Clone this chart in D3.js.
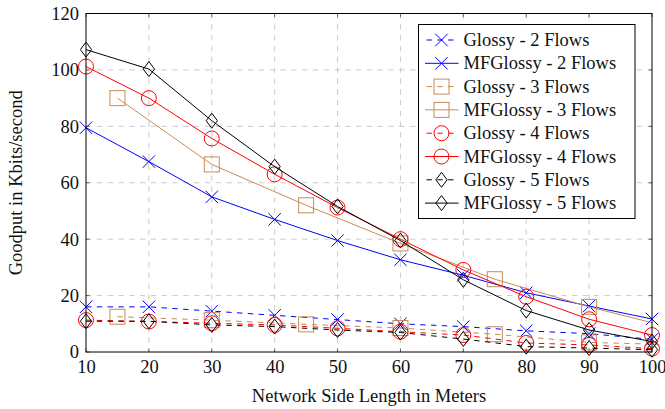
<!DOCTYPE html>
<html>
<head>
<meta charset="utf-8">
<script src="https://cdnjs.cloudflare.com/ajax/libs/d3/7.8.5/d3.min.js"></script>
<style>
    body { margin: 0; background: #fff; }
    svg, svg text { font-family: "Liberation Serif", "Times New Roman", serif !important; fill: #111; }
</style>
</head>
<body>
<div id="chart"></div>
<script>
// network side length (meters)
var sideLengths = [10, 20, 30, 40, 50, 60, 70, 80, 90, 100];
// the 3 flows runs were done with a different step
var sideLengths3 = [15, 30, 45, 60, 75, 90, 100];

// goodput in Kbits/second
var glossy2 = [16, 16, 14.5, 13, 11.5, 10, 9, 7.5, 6.5, 4.5];
var mfGlossy2 = [79.5, 67.5, 55, 47, 39.5, 32.7, 27.2, 21, 16.3, 11.7];
var glossy3 = [12.5, 11.3, 9.8, 8.5, 6.3, 3.4, 2.8];
var mfGlossy3 = [90, 66.5, 52, 38.5, 25.8, 16, 10.4];
var glossy4 = [11.3, 10.8, 10.2, 9.6, 8.4, 7.2, 6, 3.2, 2.5, 1.2];
var mfGlossy4 = [101.2, 90, 75.7, 63, 51.2, 40, 29.1, 19.6, 11.6, 6];
var glossy5 = [10.9, 10.9, 9.6, 9, 7.8, 6.9, 4.6, 1.9, 1.4, 0.8];
var mfGlossy5 = [107.2, 100.3, 82, 65.7, 51.6, 39.5, 25.6, 14.7, 7.8, 3.7];

var seriesNames = ["Glossy - 2 Flows", "MFGlossy - 2 Flows", "Glossy - 3 Flows", "MFGlossy - 3 Flows",
    "Glossy - 4 Flows", "MFGlossy - 4 Flows", "Glossy - 5 Flows", "MFGlossy - 5 Flows"];

var xTicks = [10, 20, 30, 40, 50, 60, 70, 80, 90, 100];
var yTicks = [0, 20, 40, 60, 80, 100, 120];

var width = 665, height = 409;
var margin = {top: 13.5, right: 13, bottom: 57, left: 86};
var plotW = width - margin.left - margin.right;
var plotH = height - margin.top - margin.bottom;
var fontFamily = "'Liberation Serif', 'Times New Roman', serif";

// styling per flow count
var colors = {2: "#0000ff", 3: "#c48c55", 4: "#ff0000", 5: "#000000"};
var markers = {2: "cross", 3: "square", 4: "circle", 5: "diamond"};

function makeSeries(name, xs, ys, flows, dashed) {
    return {
        name: name, flows: flows, dashed: dashed,
        values: xs.map(function (x, i) { return {x: x, y: ys[i]}; })
    };
}

var series = [
    makeSeries(seriesNames[0], sideLengths, glossy2, 2, true),
    makeSeries(seriesNames[1], sideLengths, mfGlossy2, 2, false),
    makeSeries(seriesNames[2], sideLengths3, glossy3, 3, true),
    makeSeries(seriesNames[3], sideLengths3, mfGlossy3, 3, false),
    makeSeries(seriesNames[4], sideLengths, glossy4, 4, true),
    makeSeries(seriesNames[5], sideLengths, mfGlossy4, 4, false),
    makeSeries(seriesNames[6], sideLengths, glossy5, 5, true),
    makeSeries(seriesNames[7], sideLengths, mfGlossy5, 5, false)
];

var svg = d3.select("#chart").append("svg")
    .attr("width", width)
    .attr("height", height)
    .attr("font-family", fontFamily);

var g = svg.append("g")
    .attr("transform", "translate(" + margin.left + "," + margin.top + ")");

var xScale = d3.scaleLinear().domain([10, 100]).range([0, plotW]);
var yScale = d3.scaleLinear().domain([0, 120]).range([plotH, 0]);

// grid
g.append("g").selectAll("line.vgrid")
    .data(xTicks.slice(1, -1))
    .enter().append("line")
    .attr("x1", function (d) { return xScale(d); })
    .attr("x2", function (d) { return xScale(d); })
    .attr("y1", 0).attr("y2", plotH)
    .attr("stroke", "#c4c4c4").attr("stroke-width", 0.9)
    .attr("stroke-dasharray", "5.4,5.4");

g.append("g").selectAll("line.hgrid")
    .data(yTicks.slice(1, -1))
    .enter().append("line")
    .attr("y1", function (d) { return yScale(d); })
    .attr("y2", function (d) { return yScale(d); })
    .attr("x1", 0).attr("x2", plotW)
    .attr("stroke", "#c4c4c4").attr("stroke-width", 0.9)
    .attr("stroke-dasharray", "5.4,5.4");

// axes (labels only, ticks drawn inward like pgfplots)
var xAxis = g.append("g")
    .attr("transform", "translate(0," + plotH + ")")
    .call(d3.axisBottom(xScale).tickValues(xTicks).tickSize(0).tickPadding(8));
var yAxis = g.append("g")
    .call(d3.axisLeft(yScale).tickValues(yTicks).tickSize(0).tickPadding(7));
[xAxis, yAxis].forEach(function (a) {
    a.attr("font-family", fontFamily).attr("font-size", 18.5);
    a.select(".domain").remove();
    a.selectAll("text").attr("fill", "#111");
});

// small inward tick marks on all four sides
g.append("g").selectAll("line")
    .data(xTicks).enter().append("line")
    .attr("x1", function (d) { return xScale(d); })
    .attr("x2", function (d) { return xScale(d); })
    .attr("y1", plotH).attr("y2", plotH - 3.5)
    .attr("stroke", "#333").attr("stroke-width", 0.7);
g.append("g").selectAll("line")
    .data(xTicks).enter().append("line")
    .attr("x1", function (d) { return xScale(d); })
    .attr("x2", function (d) { return xScale(d); })
    .attr("y1", 0).attr("y2", 3.5)
    .attr("stroke", "#333").attr("stroke-width", 0.7);
g.append("g").selectAll("line")
    .data(yTicks).enter().append("line")
    .attr("y1", function (d) { return yScale(d); })
    .attr("y2", function (d) { return yScale(d); })
    .attr("x1", 0).attr("x2", 3.5)
    .attr("stroke", "#333").attr("stroke-width", 0.7);
g.append("g").selectAll("line")
    .data(yTicks).enter().append("line")
    .attr("y1", function (d) { return yScale(d); })
    .attr("y2", function (d) { return yScale(d); })
    .attr("x1", plotW).attr("x2", plotW - 3.5)
    .attr("stroke", "#333").attr("stroke-width", 0.7);

// clip lines to the plot box (markers are not clipped)
svg.append("defs").append("clipPath").attr("id", "plot-clip")
    .append("rect").attr("width", plotW).attr("height", plotH);

var line = d3.line()
    .x(function (d) { return xScale(d.x); })
    .y(function (d) { return yScale(d.y); });

function drawMarker(sel, type, color) {
    var r = 7.5;
    if (type === "cross") {
        var c = 6.2;
        sel.append("path").attr("d", "M" + (-c) + "," + (-c) + "L" + c + "," + c + "M" + (-c) + "," + c + "L" + c + "," + (-c));
    } else if (type === "square") {
        sel.append("rect").attr("x", -r).attr("y", -r).attr("width", 2 * r).attr("height", 2 * r);
    } else if (type === "circle") {
        sel.append("circle").attr("r", r);
    } else {
        sel.append("path").attr("d", "M0," + (-r) + "L" + (0.75 * r) + ",0L0," + r + "L" + (-0.75 * r) + ",0Z");
    }
    sel.selectAll("*")
        .attr("fill", "none")
        .attr("stroke", color)
        .attr("stroke-width", 1);
}

series.forEach(function (s) {
    var color = colors[s.flows];
    var sg = g.append("g").attr("class", "series");

    sg.append("path")
        .datum(s.values)
        .attr("clip-path", "url(#plot-clip)")
        .attr("fill", "none")
        .attr("stroke", color)
        .attr("stroke-width", 1)
        .attr("stroke-dasharray", s.dashed ? "5.4,5.4" : null)
        .attr("d", line);

    // the 3 flows curve is only marked every 15 m
    var marked = s.values.filter(function (d) { return s.flows !== 3 || d.x % 15 === 0; });
    sg.selectAll("g.mark")
        .data(marked).enter().append("g")
        .attr("class", "mark")
        .attr("transform", function (d) { return "translate(" + xScale(d.x) + "," + yScale(d.y) + ")"; })
        .each(function () { drawMarker(d3.select(this), markers[s.flows], color); });
});

// frame
g.append("rect")
    .attr("width", plotW).attr("height", plotH)
    .attr("fill", "none").attr("stroke", "#000").attr("stroke-width", 1);

// axis titles
svg.append("text")
    .attr("x", margin.left + plotW / 2)
    .attr("y", 402)
    .attr("text-anchor", "middle")
    .attr("font-size", 18.5)
    .text("Network Side Length in Meters");

svg.append("text")
    .attr("transform", "translate(22," + (margin.top + plotH / 2) + ") rotate(-90)")
    .attr("text-anchor", "middle")
    .attr("font-size", 18.5)
    .text("Goodput in Kbits/second");

// legend
var legend = svg.append("g").attr("transform", "translate(418.5,24.5)");
legend.append("rect")
    .attr("width", 216.5).attr("height", 194)
    .attr("fill", "#fff").attr("stroke", "#000").attr("stroke-width", 1);

var rows = legend.selectAll("g.row")
    .data(series).enter().append("g")
    .attr("class", "row")
    .attr("transform", function (d, i) { return "translate(0," + (15.5 + i * 23.3) + ")"; });

rows.append("line")
    .attr("x1", 6.5).attr("x2", 40)
    .attr("stroke", function (d) { return colors[d.flows]; })
    .attr("stroke-width", 1)
    .attr("stroke-dasharray", function (d) { return d.dashed ? "5.4,5.4" : null; })
    .attr("stroke-dashoffset", function (d) { return d.dashed ? -1.5 : null; });

rows.append("g")
    .attr("transform", "translate(23,0)")
    .each(function (d) { drawMarker(d3.select(this), markers[d.flows], colors[d.flows]); });

rows.append("text")
    .attr("x", 45)
    .attr("dy", "0.33em")
    .attr("font-size", 18.5)
    .text(function (d) { return d.name; });
</script>
</body>
</html>
